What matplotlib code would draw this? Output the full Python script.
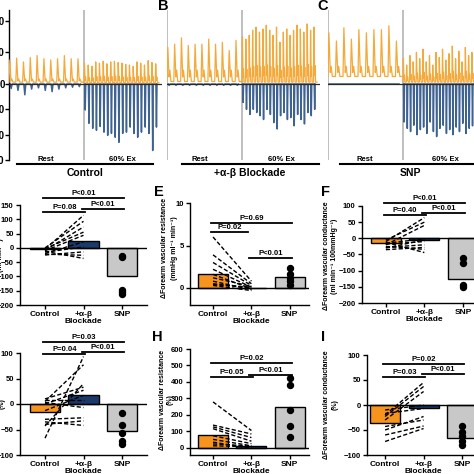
import matplotlib
matplotlib.use('Agg')
import matplotlib.pyplot as plt
from matplotlib.lines import Line2D

plt.rcParams['font.family'] = ['Liberation Sans', 'DejaVu Sans']
plt.rcParams['font.weight'] = 'bold'
plt.rcParams['axes.linewidth'] = 1.0

# ---------------- data: top row traces (per-beat peaks / troughs) ----------------
A_rest_peak = [38, 41, 35, 42, 45, 40, 38, 40, 45, 40, 40]
A_rest_trough = [-7, -10, -17, -8, -6, -10, -12, -8, -6, -5, -4]
A_ex_peak = [33, 30, 28, 35, 33, 36, 32, 35, 36, 34, 33, 31, 30, 28, 35, 33, 30, 37, 34, 32]
A_ex_trough = [-41, -62, -70, -73, -67, -76, -81, -78, -84, -92, -78, -76, -68, -78, -84, -76, -68, -78, -105, -68]
A_levels = dict(rest_base=3, rest_bump=8, ex_base=2)

B_rest_peak = [58, 63, 73, 61, 63, 63, 71, 63, 66, 53, 69]
B_rest_trough = [-2, -2, -2, -2, -2, -2, -2, -2, -2, -2, -2]
B_ex_peak = [74, 71, 77, 85, 90, 82, 87, 93, 85, 77, 90, 66, 82, 87, 77, 85, 93, 87, 82, 95, 85, 90]
B_ex_trough = [-29, -40, -48, -40, -45, -50, -56, -40, -48, -61, -71, -50, -45, -56, -53, -66, -48, -56, -63, -45, -50, -40]
B_levels = dict(rest_base=4, rest_bump=22, ex_base=3)

C_rest_peak = [81, 68, 89, 71, 86, 81, 86, 86, 92, 68]
C_rest_trough = [0, 0, 0, 0, 0, 0, 0, 0, 0, 0]
C_ex_peak = [40, 30, 45, 35, 50, 40, 55, 35, 45, 30, 50, 42, 55, 38, 48, 60, 40, 52, 35, 58, 45, 50, 40]
C_ex_trough = [-60, -70, -75, -65, -80, -72, -68, -78, -60, -75, -83, -70, -65, -78, -72, -80, -68, -75, -62, -78, -70, -66, -74]
C_levels = dict(rest_base=12, rest_bump=28, ex_base=3)

trace_yticks = [100, 50, 0, -40, -80, -120]

# ---------------- data: bar panels ----------------
categories = ['Control', '+α-β\nBlockade', 'SNP']

D_means = [-5, 25, -100]
D_ctrl = [-5, 0, -8, -3, -10, -20, -15, -25, -22, -12]
D_blk = [114, 93, 73, 55, 44, 21, 3, -14, -26, -37]
D_snp = [-28, -33, -148, -155, -162]
D_sig = [(0, 2, 175, 'P<0.01'), (0, 1, 125, 'P=0.08'), (1, 2, 135, 'P<0.01')]

E_means = [1.7, 0.05, 1.35]
E_ctrl = [6.0, 3.9, 3.0, 2.2, 1.6, 1.2, 0.8, 0.5, 0.3, 0.4]
E_blk = [0.8, 0.5, 0.3, 0.1, -0.1, 0.2, -0.2, 0.0, -0.3, 0.1]
E_snp = [2.3, 1.6, 1.2, 0.8, 0.3]
E_sig = [(0, 2, 7.65, 'P=0.69'), (0, 0.85, 6.6, 'P=0.02'), (1, 2, 3.5, 'P<0.01')]

F_means = [-15, -5, -125]
F_ctrl = [-10, -5, -20, -15, -30, -35, -25, -12, -28, -18]
F_blk = [64, 50, 40, -2, -5, -28, -34, -44, -20, -10]
F_snp = [-62, -75, -143, -152, -208]
F_sig = [(0, 2, 109, 'P<0.01'), (0, 1, 72, 'P=0.40'), (1, 2, 78, 'P<0.01')]

G_means = [-15, 18, -53]
G_ctrl = [-67, 5, -43, 10, 0, -13, 7, 3, -30, -40, -35]
G_blk = [93, 77, 40, 33, 27, 17, 7, -7, -27, -33, -42]
G_snp = [-18, -42, -57, -73, -79]
G_sig = [(0, 2, 122, 'P=0.03'), (0, 1, 98, 'P=0.04'), (1, 2, 102, 'P<0.01')]

H_means = [76, 10, 246]
H_ctrl = [278, 137, 126, 115, 72, 50, 33, 22, 11]
H_blk = [104, 83, 61, 39, 24, 11, -4, 10, 5]
H_snp = [424, 383, 228, 133, 67]
H_sig = [(0, 2, 515, 'P=0.02'), (0, 1, 430, 'P=0.05'), (1, 2, 442, 'P<0.01')]

I_means = [-35, -5, -65]
I_ctrl = [-20, -23, -30, -10, -17, -50, -43, -60, -73]
I_blk = [45, 37, 27, 0, -7, -23, -30, -42, -47]
I_snp = [-42, -53, -62, -71, -80]
I_sig = [(0, 2, 82, 'P=0.02'), (0, 1, 56, 'P=0.03'), (1, 2, 62, 'P<0.01')]

# ---------------- styles ----------------
T_ORANGE = '#F4A93A'
T_BLUE = '#3E6291'
BAR_COLORS = ['#F7941D', '#1B3A6B', '#C8C8C8']
GRAY_LINE = '#B4B4B4'

W = H = 474
fig = plt.figure(figsize=(4.74, 4.74), dpi=100)


def add_ax(l, t, r, b):
    return fig.add_axes([l / W, 1 - b / W, (r - l) / W, (b - t) / W])


def ftext(x, y, s, **kw):
    kw.setdefault('ha', 'center')
    kw.setdefault('va', 'center')
    kw.setdefault('fontweight', 'bold')
    fig.text(x / W, 1 - y / W, s, **kw)


def fline(x0, x1, y, **kw):
    fig.add_artist(Line2D([x0 / W, x1 / W], [1 - y / W, 1 - y / W],
                          transform=fig.transFigure, **kw))


def draw_trace(ax, rest_peak, rest_trough, ex_peak, ex_trough, lv, left_spine):
    segs = [(0.0, rest_peak, rest_trough, lv['rest_base'], lv['rest_bump']),
            (1.0, ex_peak, ex_trough, lv['ex_base'], None)]
    for start, peaks, troughs, base, bump in segs:
        n = len(peaks)
        w = 1.0 / n
        ox, oy, bx, by = [], [], [], []
        for i, (p, t) in enumerate(zip(peaks, troughs)):
            x0 = start + i * w
            bm = bump if bump is not None else base + 0.3 * (p - base)
            ox += [x0, x0 + 0.12 * w, x0 + 0.3 * w, x0 + 0.42 * w, x0 + 0.58 * w, x0 + w]
            oy += [base, p, base + 0.4 * (bm - base), bm, base, base]
            bx += [x0 + 0.18 * w, x0 + 0.32 * w, x0 + 0.46 * w]
            by += [0, t, 0]
        ax.plot(bx, by, color=T_BLUE, lw=1.1, zorder=2)
        ax.plot(ox, oy, color=T_ORANGE, lw=0.9, zorder=3)
    ax.axhline(0, color='#2a2a2a', lw=0.9, zorder=4)
    ax.axvline(1, color=GRAY_LINE, lw=1.2, zorder=1)
    ax.set_xlim(0, 2.04)
    ax.set_ylim(-120, 117)
    for s in ['top', 'right', 'bottom']:
        ax.spines[s].set_visible(False)
    ax.set_xticks([])
    if left_spine:
        ax.set_yticks(trace_yticks)
        ax.set_yticklabels([str(v) for v in trace_yticks])
        ax.tick_params(axis='y', length=2.9, width=1, labelsize=7, pad=0.3)
    else:
        ax.spines['left'].set_visible(False)
        ax.set_yticks([])
        ax.axvline(0, color=GRAY_LINE, lw=1.2, zorder=1)


axA = add_ax(9, 10, 162, 160)
draw_trace(axA, A_rest_peak, A_rest_trough, A_ex_peak, A_ex_trough, A_levels, True)
axB = add_ax(167, 10, 320, 160)
draw_trace(axB, B_rest_peak, B_rest_trough, B_ex_peak, B_ex_trough, B_levels, False)
axC = add_ax(328, 10, 481, 160)
draw_trace(axC, C_rest_peak, C_rest_trough, C_ex_peak, C_ex_trough, C_levels, False)

for rx, ex, l0, l1, gx, glab in [(46, 122, 17, 153, 85, 'Control'),
                                  (200, 281, 182, 319, 250, '+α-β Blockade'),
                                  (365, 445, 340, 480, 410, 'SNP')]:
    ftext(rx, 159.5, 'Rest', fontsize=5.5)
    ftext(ex, 159.5, '60% Ex', fontsize=5.5)
    fline(l0, l1, 164, color='black', lw=1.5)
    ftext(gx, 172.5, glab, fontsize=7.5)


def bar_panel(box, xlim, ylim, yticks, means, ctrl, blk, snp, sigs):
    ax = add_ax(*box)
    pos = [0, 1, 2]
    ax.bar(pos, means, width=0.78, color=BAR_COLORS, edgecolor='black', lw=1, zorder=2)
    ax.axhline(0, color='black', lw=1, zorder=2.5)
    for c, b in zip(ctrl, blk):
        ax.plot([0, 1], [c, b], color='black', lw=1, ls=(0, (3, 1.6)), zorder=3)
    ax.plot([2] * len(snp), snp, 'o', color='black', ms=4.3, zorder=4)
    for x0, x1, y, lab in sigs:
        ax.plot([x0 - 0.05, x1 + 0.05], [y, y], color='black', lw=1.3, clip_on=False, zorder=5)
        ax.annotate(lab, xy=((x0 + x1) / 2, y), xytext=(0, 0.8), textcoords='offset points',
                    ha='center', va='bottom', fontsize=5.5, fontweight='bold',
                    annotation_clip=False)
    ax.set_xlim(*xlim)
    ax.set_ylim(*ylim)
    ax.set_yticks(yticks)
    ax.set_xticks(pos)
    ax.set_xticklabels(categories, linespacing=1.0)
    ax.tick_params(length=3, width=1, labelsize=6, pad=1.5)
    ax.tick_params(axis='y', labelsize=5.5)
    for t in ax.get_xticklabels() + ax.get_yticklabels():
        t.set_fontweight('bold')
    ax.spines['top'].set_visible(False)
    ax.spines['right'].set_visible(False)
    return ax


bar_panel((20, 205, 147, 305), (-0.65, 2.65), (-200, 150), list(range(-200, 151, 50)),
          D_means, D_ctrl, D_blk, D_snp, D_sig)
bar_panel((190, 203, 309, 305), (-0.6, 2.5), (-2, 10), [0, 5, 10],
          E_means, E_ctrl, E_blk, E_snp, E_sig)
bar_panel((362, 206, 489, 303), (-0.62, 2.68), (-200, 100), list(range(-200, 101, 50)),
          F_means, F_ctrl, F_blk, F_snp, F_sig)
bar_panel((20, 353, 147, 455), (-0.65, 2.65), (-100, 100), list(range(-100, 101, 50)),
          G_means, G_ctrl, G_blk, G_snp, G_sig)
bar_panel((190, 349, 309, 455), (-0.6, 2.5), (-45, 600), list(range(0, 601, 100)),
          H_means, H_ctrl, H_blk, H_snp, H_sig)
bar_panel((367, 355, 494, 455), (-0.47, 2.83), (-100, 100), list(range(-100, 101, 50)),
          I_means, I_ctrl, I_blk, I_snp, I_sig)

# y labels
yl = dict(rotation=90, fontsize=5)
ftext(-8.5, 255, 'ΔForearm blood flow', **yl)
ftext(1, 255, '(ml min⁻¹)', **yl)
ftext(-8.5, 404, 'ΔForearm blood flow', **yl)
ftext(2, 404, '(%)', **yl)
ftext(165, 248, 'ΔForearm vascular resistance', **yl)
ftext(174, 248, '(mmHg ml⁻¹ min⁻¹)', **yl)
ftext(326, 256, 'ΔForearm vascular conductance', **yl)
ftext(335, 256, '(ml min⁻¹ 100mmHg⁻¹)', **yl)
ftext(163, 400, 'ΔForearm vascular resistance', **yl)
ftext(170.5, 400, '(%)', **yl)
ftext(326, 405, 'ΔForearm vascular conductance', **yl)
ftext(335, 405, '(%)', **yl)

# panel letters
for x, y, s in [(163, 6, 'B'), (323, 6, 'C'), (159, 192, 'E'), (325, 192, 'F'),
                (157, 337, 'H'), (323, 337, 'I')]:
    ftext(x, y, s, fontsize=10.5)

fig.savefig('out.png', dpi=100)
